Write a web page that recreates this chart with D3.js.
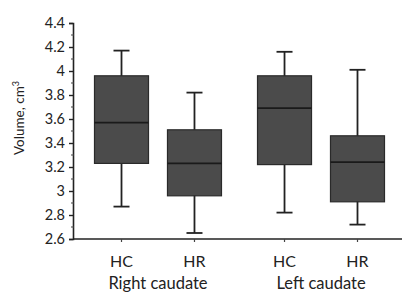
<!DOCTYPE html>
<html>
<head>
<meta charset="utf-8">
<script src="https://cdn.jsdelivr.net/npm/d3@7"></script>
<style>
  body { margin: 0; background: #fff; }
  text { font-family: Lato, "Open Sans", sans-serif; fill: #222; }
</style>
</head>
<body>
<svg id="svg" width="404" height="292"></svg>
<script>
// data
const groups = ["Right caudate", "Left caudate"];
const subjects = ["HC", "HR"];
const whiskerLow = [2.87, 2.65, 2.82, 2.72];
const q1 = [3.23, 2.96, 3.22, 2.91];
const median = [3.57, 3.23, 3.69, 3.24];
const q3 = [3.96, 3.51, 3.96, 3.46];
const whiskerHigh = [4.17, 3.82, 4.16, 4.01];
const yTicks = [2.6, 2.8, 3, 3.2, 3.4, 3.6, 3.8, 4, 4.2, 4.4];

const boxes = [];
groups.forEach((g, gi) => subjects.forEach((s, si) => {
  const i = gi * 2 + si;
  boxes.push({ group: g, label: s,
    lo: whiskerLow[i], q1: q1[i], med: median[i], q3: q3[i], hi: whiskerHigh[i] });
}));

const svg = d3.select("#svg");
const plotLeft = 73, plotRight = 402, plotTop = 23, plotBottom = 239;

const y = d3.scaleLinear().domain([2.6, 4.4]).range([plotBottom, plotTop]);
const x0 = d3.scaleBand().domain(groups).range([94.5, 384.5]).paddingInner(0.221);
const x1 = d3.scaleBand().domain(subjects).range([0, x0.bandwidth()]).paddingInner(0.26);
const bw = x1.bandwidth();
const cx = d => x0(d.group) + x1(d.label) + bw / 2;

// y axis
const yAxis = svg.append("g").attr("transform", `translate(${plotLeft},0)`)
  .call(d3.axisLeft(y).tickValues(yTicks).tickFormat(d3.format("")).tickSize(4).tickPadding(4));
yAxis.select(".domain").attr("stroke", "#222").attr("stroke-width", 1.6);
yAxis.selectAll(".tick line").attr("stroke", "#222").attr("stroke-width", 1.4);
yAxis.selectAll("text").style("font-size", "14.5px").attr("fill", "#222");

// minor ticks
svg.append("g").selectAll("line")
  .data(d3.range(2.7, 4.4, 0.2))
  .join("line")
  .attr("x1", plotLeft - 2).attr("x2", plotLeft + 1)
  .attr("y1", d => y(d)).attr("y2", d => y(d))
  .attr("stroke", "#444").attr("stroke-width", 1);

// x axis
svg.append("line").attr("x1", plotLeft).attr("x2", plotRight)
  .attr("y1", plotBottom).attr("y2", plotBottom)
  .attr("stroke", "#222").attr("stroke-width", 1.6);
svg.append("g").selectAll("line")
  .data(boxes).join("line")
  .attr("x1", cx).attr("x2", cx)
  .attr("y1", plotBottom).attr("y2", plotBottom + 3)
  .attr("stroke", "#444").attr("stroke-width", 1.2);

svg.append("g").selectAll("text")
  .data(boxes).join("text")
  .attr("x", cx).attr("y", 267)
  .attr("text-anchor", "middle").style("font-size", "16px")
  .text(d => d.label);

svg.append("g").selectAll("text")
  .data(groups).join("text")
  .attr("x", g => x0(g) + x0.bandwidth() / 2)
  .attr("y", 289)
  .attr("text-anchor", "middle").style("font-size", "16.5px")
  .text(g => g);

// y title
const yt = svg.append("text")
  .attr("transform", "translate(24,118) rotate(-90)")
  .attr("text-anchor", "middle").style("font-size", "13.5px");
yt.append("tspan").text("Volume, cm");
yt.append("tspan").attr("dy", -5).style("font-size", "9px").text("3");

// boxes
const g = svg.append("g").selectAll("g").data(boxes).join("g")
  .attr("transform", d => `translate(${cx(d) - bw / 2},0)`);

g.append("line")
  .attr("x1", bw / 2).attr("x2", bw / 2)
  .attr("y1", d => y(d.hi)).attr("y2", d => y(d.lo))
  .attr("stroke", "#222").attr("stroke-width", 1.8);
g.selectAll(".cap").data(d => [d.lo, d.hi]).join("line")
  .attr("class", "cap")
  .attr("x1", bw / 2 - 8).attr("x2", bw / 2 + 8)
  .attr("y1", v => y(v)).attr("y2", v => y(v))
  .attr("stroke", "#222").attr("stroke-width", 1.8);
g.append("rect")
  .attr("x", 0).attr("width", bw)
  .attr("y", d => y(d.q3)).attr("height", d => y(d.q1) - y(d.q3))
  .attr("fill", "#4b4b4b").attr("stroke", "#2a2a2a").attr("stroke-width", 1.2);
g.append("line")
  .attr("x1", 0).attr("x2", bw)
  .attr("y1", d => y(d.med)).attr("y2", d => y(d.med))
  .attr("stroke", "#1a1a1a").attr("stroke-width", 1.8);
</script>
</body>
</html>
